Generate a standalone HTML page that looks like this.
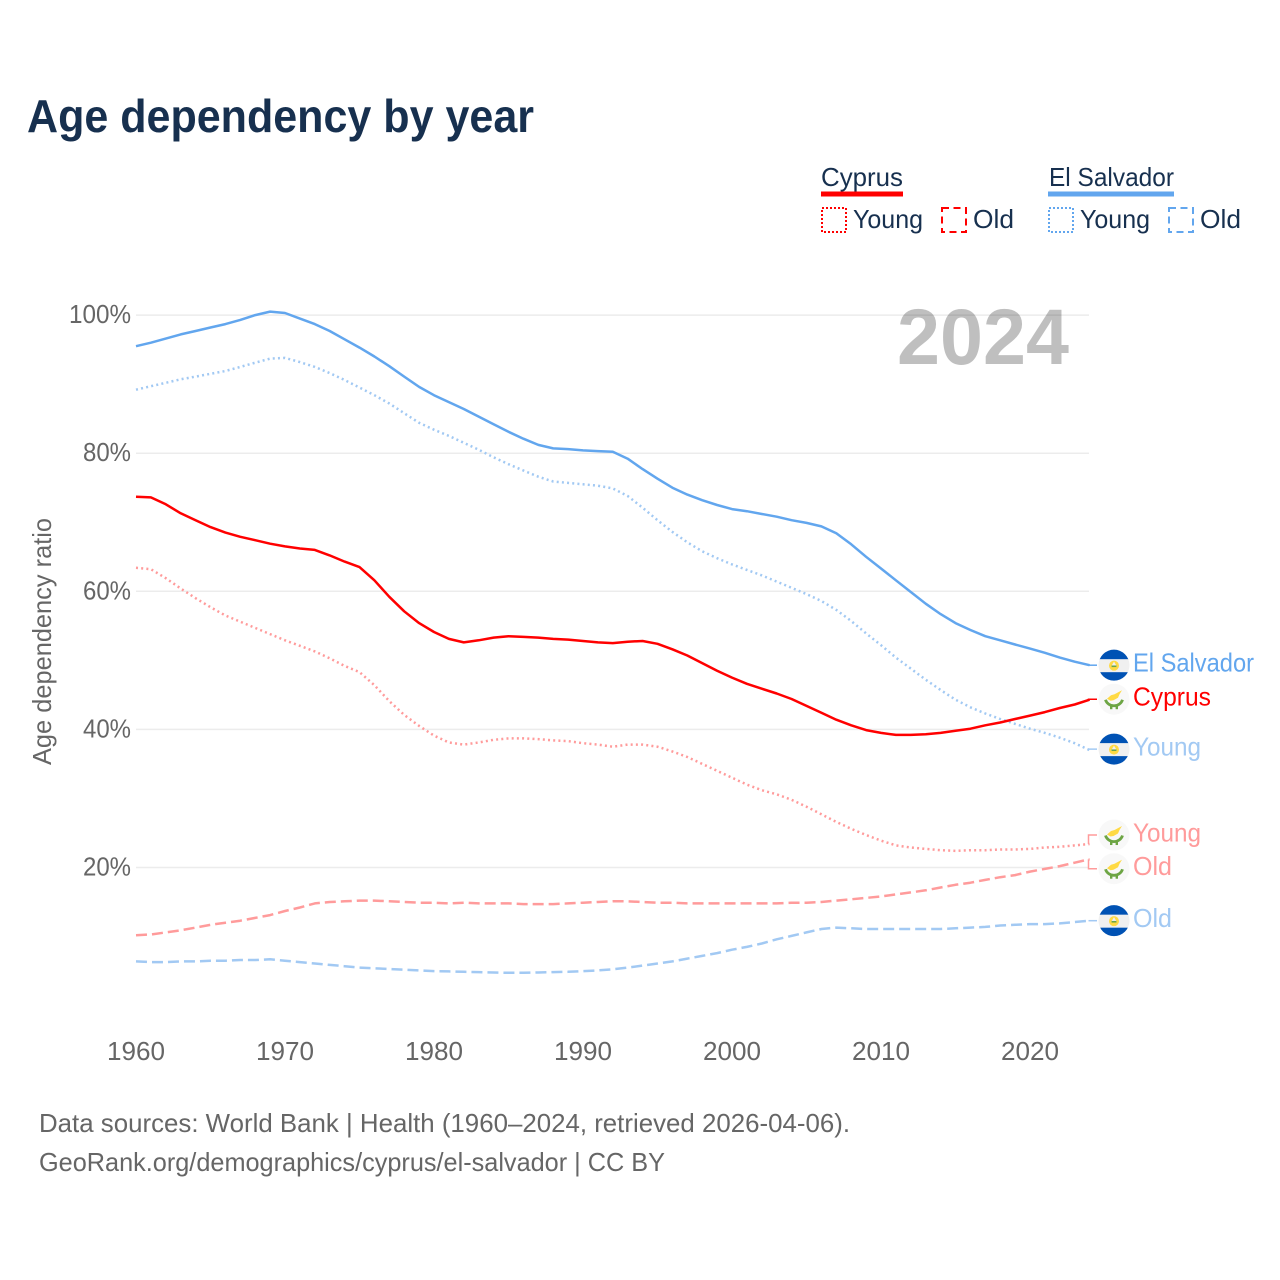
<!DOCTYPE html>
<html lang="en">
<head>
<meta charset="utf-8">
<title>Age dependency by year</title>
<style>
html,body{margin:0;padding:0;background:#fff;}
svg{display:block;font-family:"Liberation Sans",sans-serif;}
</style>
</head>
<body>
<svg id="chart" xmlns="http://www.w3.org/2000/svg" width="1280" height="1280" viewBox="0 0 1280 1280">
  <rect x="0" y="0" width="1280" height="1280" fill="#ffffff"/>
  <text x="27" y="132" font-size="46" font-weight="700" fill="#17304f" textLength="507" lengthAdjust="spacingAndGlyphs">Age dependency by year</text>

  <g>
    <g>
      <text x="821" y="186" font-size="26" fill="#17304f" textLength="82" lengthAdjust="spacingAndGlyphs">Cyprus</text>
      <rect x="821" y="191.5" width="82" height="5" fill="#ff0000"/>
      <rect x="822" y="208" width="24" height="24" fill="none" stroke="#ff0000" stroke-width="2" stroke-dasharray="2 2"/>
      <text x="853" y="228" font-size="26" fill="#17304f" textLength="70" lengthAdjust="spacingAndGlyphs">Young</text>
      <rect x="942" y="208" width="24" height="24" fill="none" stroke="#ff0000" stroke-width="2" stroke-dasharray="7 4.5"/>
      <text x="973" y="228" font-size="26" fill="#17304f" textLength="41" lengthAdjust="spacingAndGlyphs">Old</text>
    </g>
    <g>
      <text x="1049" y="186" font-size="26" fill="#17304f" textLength="125" lengthAdjust="spacingAndGlyphs">El Salvador</text>
      <rect x="1048" y="191.5" width="126" height="5" fill="#62a6ee"/>
      <rect x="1049" y="208" width="24" height="24" fill="none" stroke="#62a6ee" stroke-width="2" stroke-dasharray="2 2"/>
      <text x="1080" y="228" font-size="26" fill="#17304f" textLength="70" lengthAdjust="spacingAndGlyphs">Young</text>
      <rect x="1169" y="208" width="24" height="24" fill="none" stroke="#62a6ee" stroke-width="2" stroke-dasharray="7 4.5"/>
      <text x="1200" y="228" font-size="26" fill="#17304f" textLength="41" lengthAdjust="spacingAndGlyphs">Old</text>
    </g>
  </g>

  <g id="grid"></g>
  <text x="897" y="364" font-size="79" font-weight="700" fill="#000000" fill-opacity="0.25" textLength="172" lengthAdjust="spacingAndGlyphs">2024</text>
  <g id="y-axis"></g>
  <g id="x-axis"></g>
  <text transform="translate(51,765) rotate(-90)" x="0" y="0" font-size="26" fill="#666666" textLength="247" lengthAdjust="spacingAndGlyphs">Age dependency ratio</text>
  <g id="series"></g>
  <g id="end-labels"></g>

  <text x="39" y="1132" font-size="26" fill="#666666" textLength="811" lengthAdjust="spacingAndGlyphs">Data sources: World Bank | Health (1960–2024, retrieved 2026-04-06).</text>
  <text x="39" y="1171" font-size="26" fill="#666666" textLength="626" lengthAdjust="spacingAndGlyphs">GeoRank.org/demographics/cyprus/el-salvador | CC BY</text>
</svg>
<script>
const firstYear = 1960;
const xTicks = [1960, 1970, 1980, 1990, 2000, 2010, 2020];
const yTicks = [20, 40, 60, 80, 100];

const elSalvadorTotal = [95.5,96.0,96.6,97.2,97.7,98.2,98.7,99.3,100.0,100.5,
  100.3,99.5,98.7,97.7,96.5,95.3,94.0,92.6,91.1,89.6,
  88.4,87.4,86.4,85.3,84.2,83.1,82.1,81.2,80.7,80.6,
  80.4,80.3,80.2,79.2,77.7,76.3,75.0,74.0,73.2,72.5,
  71.9,71.6,71.2,70.8,70.3,69.9,69.4,68.4,66.8,65.0,
  63.3,61.6,59.9,58.2,56.7,55.4,54.4,53.5,52.9,52.3,
  51.7,51.1,50.4,49.8,49.3];
const elSalvadorYoung = [89.2,89.7,90.2,90.7,91.1,91.5,91.9,92.5,93.1,93.7,
  93.8,93.2,92.5,91.6,90.6,89.5,88.4,87.2,85.8,84.4,
  83.4,82.5,81.5,80.5,79.4,78.4,77.5,76.6,75.9,75.7,
  75.5,75.3,74.9,73.8,72.1,70.3,68.6,67.1,65.8,64.8,
  63.9,63.1,62.3,61.4,60.5,59.6,58.6,57.3,55.7,53.9,
  52.2,50.4,48.8,47.2,45.7,44.3,43.2,42.3,41.5,40.8,
  40.1,39.5,38.8,38.0,37.0];
const elSalvadorOld = [6.4,6.3,6.3,6.4,6.4,6.5,6.5,6.6,6.6,6.7,
  6.5,6.3,6.1,5.9,5.7,5.5,5.4,5.3,5.2,5.1,
  5.0,4.95,4.9,4.85,4.8,4.75,4.75,4.8,4.85,4.9,
  5.0,5.1,5.25,5.5,5.8,6.1,6.4,6.8,7.2,7.6,
  8.1,8.5,9.0,9.6,10.1,10.6,11.1,11.3,11.2,11.1,
  11.1,11.1,11.1,11.1,11.1,11.2,11.3,11.4,11.6,11.7,
  11.8,11.8,11.9,12.1,12.3];
const cyprusTotal = [73.7,73.6,72.6,71.3,70.3,69.3,68.5,67.9,67.4,66.9,
  66.5,66.2,66.0,65.2,64.3,63.5,61.6,59.2,57.1,55.4,
  54.1,53.1,52.6,52.9,53.3,53.5,53.4,53.3,53.1,53.0,
  52.8,52.6,52.5,52.7,52.8,52.4,51.6,50.7,49.6,48.5,
  47.5,46.6,45.9,45.2,44.4,43.4,42.4,41.4,40.6,39.9,
  39.5,39.2,39.2,39.3,39.5,39.8,40.1,40.6,41.0,41.5,
  42.0,42.5,43.1,43.6,44.3];
const cyprusYoung = [63.4,63.2,61.9,60.4,59.0,57.7,56.5,55.6,54.7,53.8,
  52.9,52.1,51.3,50.3,49.2,48.3,46.4,44.1,42.1,40.5,
  39.1,38.1,37.8,38.1,38.5,38.7,38.7,38.6,38.4,38.3,
  38.0,37.8,37.5,37.8,37.8,37.5,36.8,36.0,35.0,34.0,
  33.0,32.0,31.2,30.6,29.8,28.8,27.7,26.6,25.6,24.7,
  23.9,23.2,22.9,22.7,22.5,22.4,22.5,22.5,22.6,22.6,
  22.7,22.9,23.0,23.2,23.4];
const cyprusOld = [10.2,10.3,10.6,10.9,11.3,11.7,12.0,12.3,12.7,13.1,
  13.7,14.2,14.8,15.0,15.1,15.2,15.2,15.1,15.0,14.9,
  14.9,14.8,14.9,14.8,14.8,14.8,14.7,14.7,14.7,14.8,
  14.9,15.0,15.1,15.1,15.0,14.9,14.9,14.8,14.8,14.8,
  14.8,14.8,14.8,14.8,14.9,14.9,15.0,15.2,15.4,15.6,
  15.8,16.1,16.4,16.7,17.1,17.5,17.8,18.2,18.6,18.9,
  19.4,19.8,20.2,20.7,21.2];

const NS = 'http://www.w3.org/2000/svg';
function xScale(year) { return 136 + (year - 1960) * 14.9; }
function yScale(v) { return 867.5 - (v - 20) * 6.905; }
function make(tag, parent, attrs) {
  const el = document.createElementNS(NS, tag);
  for (const k in attrs) el.setAttribute(k, attrs[k]);
  parent.appendChild(el);
  return el;
}
const gridG = document.getElementById('grid');
const yAxisG = document.getElementById('y-axis');
const xAxisG = document.getElementById('x-axis');
const seriesG = document.getElementById('series');
const labelsG = document.getElementById('end-labels');

yTicks.forEach(function (t) {
  const line = make('line', gridG, {x1: 136, x2: 1089, y1: yScale(t), y2: yScale(t), stroke: '#ececec', 'stroke-width': 1.5});
  
  
  const label = make('text', yAxisG, {x: 131, y: yScale(t) + 8, 'text-anchor': 'end', 'font-size': 26, fill: '#666666', textLength: t === 100 ? 62 : 48, lengthAdjust: 'spacingAndGlyphs'});
  label.textContent = t + '%';
  
  
});
xTicks.forEach(function (t) {
  const label = make('text', xAxisG, {x: xScale(t), y: 1060, 'text-anchor': 'middle', 'font-size': 26, fill: '#666666', textLength: 58, lengthAdjust: 'spacingAndGlyphs'});
  label.textContent = String(t);
  
  
});

function drawSeries(name, values, color, width, dash) {
  const d = values.map(function (v, i) {
    return (i ? 'L' : 'M') + xScale(firstYear + i).toFixed(1) + ' ' + yScale(v).toFixed(1);
  }).join(' ');
  const attrs = {d: d, fill: 'none', stroke: color, 'stroke-width': width, 'stroke-linejoin': 'round'};
  if (dash) attrs['stroke-dasharray'] = dash;
  const path = make('path', seriesG, attrs);
  
  
}

function drawFlag(group, country, cy) {
  const cx = 1114;
  const id = 'clip-' + Math.round(cy * 10) + '-' + labelsG.childNodes.length;
  const clip = make('clipPath', group, {id: id});
  make('circle', clip, {cx: cx, cy: cy, r: 15.5});
  if (country === 'sv') {
    make('circle', group, {cx: cx, cy: cy, r: 15.5, fill: '#f0f0f0'});
    make('rect', group, {x: cx - 16, y: cy - 16, width: 32, height: 10, fill: '#0052b4', 'clip-path': 'url(#' + id + ')'});
    make('rect', group, {x: cx - 16, y: cy + 7, width: 32, height: 9, fill: '#0052b4', 'clip-path': 'url(#' + id + ')'});
    make('circle', group, {cx: cx, cy: cy + 0.5, r: 5, fill: '#ffda44'});
    make('path', group, {d: 'M' + (cx - 3) + ' ' + (cy + 1.5) + ' L' + cx + ' ' + (cy - 3.5) + ' L' + (cx + 3) + ' ' + (cy + 1.5) + ' z', fill: '#f0f0f0'});
    make('rect', group, {x: cx - 2.5, y: cy + 0.3, width: 5, height: 1.6, fill: '#6da544'});
  } else {
    make('circle', group, {cx: cx, cy: cy, r: 15.5, fill: '#f8f8f8'});
    make('path', group, {d: 'M' + (cx - 7) + ' ' + (cy - 0.5) + ' l4 -3.5 l3.5 -1 l7.5 -4 l-2.5 4 l-1.5 3.5 l-4.5 2.5 l-3 0.5 z', fill: '#ffda44'});
    make('path', group, {d: 'M' + (cx - 8.5) + ' ' + (cy + 0.5) + ' a8.8 8.2 0 0 0 17 0', fill: 'none', stroke: '#6da544', 'stroke-width': 2.8});
    make('rect', group, {x: cx - 4, y: cy + 7, width: 2.4, height: 3, fill: '#6da544'});
    make('rect', group, {x: cx + 1.6, y: cy + 7, width: 2.4, height: 3, fill: '#6da544'});
  }
}

function drawEndLabel(name, values, text, color, country, labelDy, textWidth) {
  const yEnd = yScale(values[values.length - 1]);
  const yLabel = yEnd + labelDy;
  const g = make('g', labelsG, {});
  
  
  const conn = make('path', g, {d: 'M1088.5 ' + yEnd.toFixed(1) + ' V' + yLabel.toFixed(1) + ' H1097', fill: 'none', stroke: color, 'stroke-width': 1.5});
  
  
  const flag = make('g', g, {});
  
  
  drawFlag(flag, country, yLabel);
  const label = make('text', g, {x: 1133, y: yLabel + 6.5, 'font-size': 26, fill: color, textLength: textWidth, lengthAdjust: 'spacingAndGlyphs'});
  label.textContent = text;
  
  
}

drawSeries('el-salvador-total', elSalvadorTotal, '#62a6ee', 2.5, null);
drawSeries('el-salvador-young', elSalvadorYoung, '#a2c9f3', 2.5, '2 3.2');
drawSeries('el-salvador-old', elSalvadorOld, '#a2c9f3', 2.5, '11 5');
drawSeries('cyprus-total', cyprusTotal, '#ff0000', 2.5, null);
drawSeries('cyprus-young', cyprusYoung, '#ff9b9b', 2.5, '2 3.2');
drawSeries('cyprus-old', cyprusOld, '#ff9b9b', 2.5, '11 5');

drawEndLabel('el-salvador-total', elSalvadorTotal, 'El Salvador', '#62a6ee', 'sv', 0, 121);
drawEndLabel('cyprus-total', cyprusTotal, 'Cyprus', '#ff0000', 'cy', -0.5, 78);
drawEndLabel('el-salvador-young', elSalvadorYoung, 'Young', '#a2c9f3', 'sv', -1, 68);
drawEndLabel('cyprus-young', cyprusYoung, 'Young', '#ff9b9b', 'cy', -9, 68);
drawEndLabel('cyprus-old', cyprusOld, 'Old', '#ff9b9b', 'cy', 9.5, 39);
drawEndLabel('el-salvador-old', elSalvadorOld, 'Old', '#a2c9f3', 'sv', 0, 39);
</script>
</body>
</html>
